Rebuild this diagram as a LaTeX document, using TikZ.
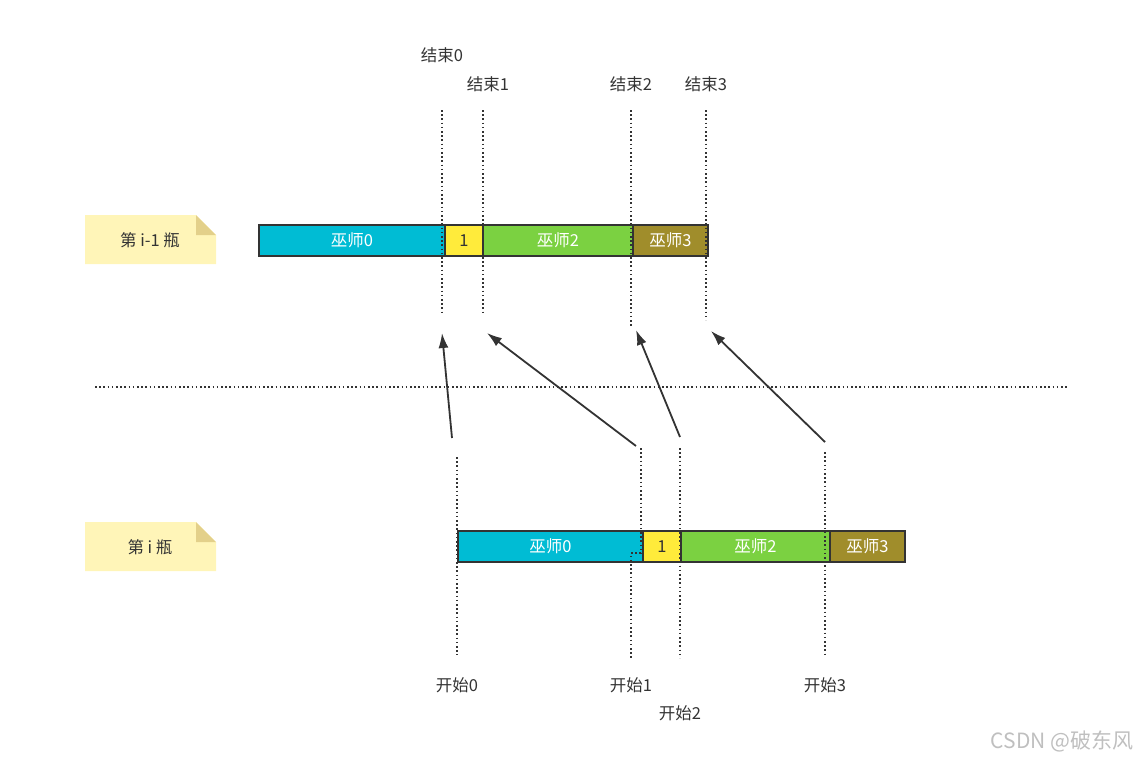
\documentclass[tikz,border=0pt]{standalone}
\usepackage{fontspec}
\setmainfont{Noto Sans CJK SC}
\usetikzlibrary{arrows.meta}
\definecolor{cyanbar}{HTML}{00BCD4}
\definecolor{yelbar}{HTML}{FFEB3B}
\definecolor{grnbar}{HTML}{7BD141}
\definecolor{olvbar}{HTML}{A08D2B}
\definecolor{notefill}{HTML}{FFF5B8}
\definecolor{notefold}{HTML}{E3D08A}
\definecolor{ink}{HTML}{333333}
\begin{document}
\begin{tikzpicture}[x=1pt,y=-1pt,
  seg/.style={draw=ink,line width=1.7pt,minimum height=31pt,inner sep=0pt,anchor=north west,text=white,font=\fontsize{16.5}{18}\selectfont},
  lbl/.style={font=\fontsize{16.5}{18}\selectfont,text=ink,inner sep=0pt},
  vdot/.style={ink,line width=1.6pt,dash pattern=on 1.6pt off 2.6pt},
  arr/.style={ink,line width=1.8pt,-{Latex[length=15pt,width=10pt]}}
]
\useasboundingbox (0,0) rectangle (1140,761);
% notes
\foreach \y/\t/\n in {215/{第 i-1 瓶}/noteA,522/{第 i 瓶}/noteB}{
  \fill[notefill] (85,\y) -- (196,\y) -- (216,\y+20) -- (216,\y+49) -- (85,\y+49) -- cycle;
  \fill[notefold] (196,\y) -- (216,\y+20) -- (196,\y+20) -- cycle;
  \node[lbl] (\n) at (150,\y+25) {\t};
}
% top bar
\node[seg,fill=cyanbar,minimum width=186pt] (t0) at (258,224) {巫师0};
\node[seg,fill=yelbar,minimum width=38pt,text=ink] (t1) at (444,224) {1};
\node[seg,fill=grnbar,minimum width=150pt] (t2) at (482,224) {巫师2};
\node[seg,fill=olvbar,minimum width=75pt] (t3) at (632,224) {巫师3};
% bottom bar
\node[seg,fill=cyanbar,minimum width=185pt] (b0) at (457,530) {巫师0};
\node[seg,fill=yelbar,minimum width=38pt,text=ink] (b1) at (642,530) {1};
\node[seg,fill=grnbar,minimum width=149pt] (b2) at (680,530) {巫师2};
\node[seg,fill=olvbar,minimum width=75pt] (b3) at (829,530) {巫师3};
% top labels
\node[lbl] (e0) at (442,55) {结束0};
\node[lbl] (e1) at (488,84) {结束1};
\node[lbl] (e2) at (631,84) {结束2};
\node[lbl] (e3) at (706,84) {结束3};
% bottom labels
\node[lbl] (s0) at (457,685) {开始0};
\node[lbl] (s1) at (631,685) {开始1};
\node[lbl] (s3) at (825,685) {开始3};
\node[lbl] (s2) at (680,713) {开始2};
% top dotted lines
\coordinate (te0a) at (442,110); \coordinate (te0b) at (442,313);
\coordinate (te1a) at (483,110); \coordinate (te1b) at (483,313);
\coordinate (te2a) at (631,110); \coordinate (te2b) at (631,327);
\coordinate (te3a) at (706,110); \coordinate (te3b) at (706,320);
\draw[vdot] (te0a) -- (te0b);
\draw[vdot] (te1a) -- (te1b);
\draw[vdot] (te2a) -- (te2b);
\draw[vdot] (te3a) -- (te3b);
% bottom dotted lines
\coordinate (bs0a) at (457,457); \coordinate (bs0b) at (457,655);
\coordinate (bs1a) at (641,448); \coordinate (bs1m) at (641,553); \coordinate (bs1n) at (631,553); \coordinate (bs1b) at (631,658);
\coordinate (bs2a) at (680,448); \coordinate (bs2b) at (680,658);
\coordinate (bs3a) at (825,452); \coordinate (bs3b) at (825,657);
\draw[vdot] (bs0a) -- (bs0b);
\draw[vdot] (bs1a) -- (bs1m) -- (bs1n) -- (bs1b);
\draw[vdot] (bs2a) -- (bs2b);
\draw[vdot] (bs3a) -- (bs3b);
% separator
\coordinate (sepL) at (95,387); \coordinate (sepR) at (1068,387);
\draw[vdot] (sepL) -- (sepR);
% arrows
\coordinate (a0s) at (452,438); \coordinate (a0e) at (442,333);
\coordinate (a1s) at (636,446); \coordinate (a1e) at (487,333);
\coordinate (a2s) at (680,437); \coordinate (a2e) at (636,330);
\coordinate (a3s) at (825,442); \coordinate (a3e) at (711,331);
\draw[arr] (a0s) -- (a0e);
\draw[arr] (a1s) -- (a1e);
\draw[arr] (a2s) -- (a2e);
\draw[arr] (a3s) -- (a3e);
% watermark
\node[font=\fontsize{21}{24}\selectfont,text=black!25,inner sep=0pt] (wm) at (1062,741) {CSDN @破东风};
\end{tikzpicture}
\end{document}
